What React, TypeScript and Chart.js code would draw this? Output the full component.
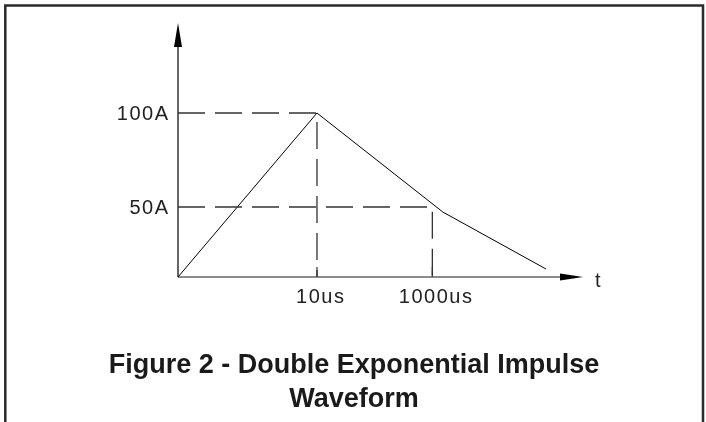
import React, { useEffect, useRef } from "react";
import { Chart, registerables } from "chart.js";

Chart.register(...registerables);

// ---- data (schematic positions) ----
const xTickValues = [1, 1.83];
const xTickLabels = ["10us", "1000us"];
const yTickValues = [100, 42.7];
const yTickLabels = ["100A", "50A"];
const waveX = [0, 1, 1.906, 2.647];
const waveY = [0, 100, 39.6, 4.9];
const xAxisMax = 2.914;
const yAxisMax = 154.9;
const xAxisName = "t";
const titleLines = ["Figure 2 - Double Exponential Impulse", "Waveform"];

const W = 706;
const H = 422;

const decorPlugin = {
  id: "decor",
  beforeDatasetsDraw(chart: any) {
    const ctx = chart.ctx as CanvasRenderingContext2D;
    const xs = chart.scales.x;
    const ys = chart.scales.y;
    const x0 = xs.getPixelForValue(0);
    const y0 = ys.getPixelForValue(0);
    const xEnd = xs.getPixelForValue(xAxisMax);
    const yEnd = ys.getPixelForValue(yAxisMax);
    ctx.save();
    ctx.strokeStyle = "#666";
    ctx.lineWidth = 2;
    ctx.beginPath();
    ctx.moveTo(x0, y0);
    ctx.lineTo(x0, yEnd + 12);
    ctx.stroke();
    ctx.lineWidth = 1.6;
    ctx.beginPath();
    ctx.moveTo(x0, y0);
    ctx.lineTo(xEnd - 12, y0);
    ctx.stroke();
    // ticks
    ctx.strokeStyle = "#444";
    ctx.lineWidth = 1.3;
    xTickValues.forEach((v) => {
      const px = xs.getPixelForValue(v);
      ctx.beginPath();
      ctx.moveTo(px, y0);
      ctx.lineTo(px, y0 - 10);
      ctx.stroke();
    });
    ctx.restore();
  },
  afterDatasetsDraw(chart: any) {
    const ctx = chart.ctx as CanvasRenderingContext2D;
    const xs = chart.scales.x;
    const ys = chart.scales.y;
    const x0 = xs.getPixelForValue(0);
    const y0 = ys.getPixelForValue(0);
    const xEnd = xs.getPixelForValue(xAxisMax);
    const yEnd = ys.getPixelForValue(yAxisMax);
    ctx.save();
    // arrow heads
    ctx.fillStyle = "#000";
    ctx.beginPath();
    ctx.moveTo(x0, yEnd);
    ctx.lineTo(x0 + 4, yEnd + 24);
    ctx.lineTo(x0 - 4, yEnd + 24);
    ctx.closePath();
    ctx.fill();
    ctx.beginPath();
    ctx.moveTo(xEnd, y0);
    ctx.lineTo(xEnd - 23, y0 - 3.5);
    ctx.lineTo(xEnd - 23, y0 + 3.5);
    ctx.closePath();
    ctx.fill();

    // labels
    const spacing = 1.5;
    ctx.font = '20px "Liberation Sans", Arial, sans-serif';
    ctx.fillStyle = "#222";
    ctx.textAlign = "left";
    ctx.textBaseline = "alphabetic";
    const widthOf = (s: string) => {
      (ctx as any).letterSpacing = "0px";
      const w = ctx.measureText(s).width + spacing * (s.length - 1);
      return w;
    };
    const drawText = (s: string, x: number, y: number) => {
      (ctx as any).letterSpacing = spacing + "px";
      ctx.fillText(s, x, y);
    };
    yTickValues.forEach((v, i) => {
      const py = ys.getPixelForValue(v);
      const s = yTickLabels[i];
      const w = widthOf(s);
      drawText(s, x0 - 10 - w, py + 7);
    });
    xTickValues.forEach((v, i) => {
      const px = xs.getPixelForValue(v) + 3;
      const s = xTickLabels[i];
      const w = widthOf(s);
      drawText(s, px - w / 2, y0 + 26);
    });
    drawText(xAxisName, xEnd + 12, y0 + 10);
    (ctx as any).letterSpacing = "0px";

    // title
    ctx.font = 'bold 27px "Liberation Sans", Arial, sans-serif';
    ctx.fillStyle = "#1a1a1a";
    ctx.textAlign = "center";
    ctx.fillText(titleLines[0], 354, 373);
    ctx.fillText(titleLines[1], 354, 407);

    // frame
    ctx.strokeStyle = "#2b2b2b";
    ctx.lineWidth = 2.5;
    ctx.beginPath();
    ctx.moveTo(5.3, H);
    ctx.lineTo(5.3, 5.5);
    ctx.lineTo(703, 5.5);
    ctx.lineTo(703, H);
    ctx.stroke();
    ctx.restore();
  },
};

export default function App() {
  const ref = useRef<HTMLCanvasElement | null>(null);
  useEffect(() => {
    if (!ref.current) return;
    const guides = yTickValues.map((y, i) => ({
      data: [
        { x: 0, y },
        { x: xTickValues[i], y },
        { x: xTickValues[i], y: 0 },
      ],
      showLine: true,
      borderColor: "#333",
      borderWidth: 1.3,
      borderDash: [27, 10],
      pointRadius: 0,
      fill: false,
    }));
    const chart = new Chart(ref.current, {
      type: "scatter",
      data: {
        datasets: [
          ...guides,
          {
            data: waveX.map((x, i) => ({ x, y: waveY[i] })),
            showLine: true,
            borderColor: "#000",
            borderWidth: 1,
            pointRadius: 0,
            fill: false,
          },
        ] as any,
      },
      options: {
        animation: false,
        responsive: false,
        devicePixelRatio: 1,
        events: [],
        layout: { padding: { left: 178, top: 23, right: W - 583, bottom: H - 277 } },
        scales: {
          x: { type: "linear", min: 0, max: xAxisMax, display: false },
          y: { type: "linear", min: 0, max: yAxisMax, display: false },
        },
        plugins: { legend: { display: false }, tooltip: { enabled: false }, title: { display: false } },
      },
      plugins: [decorPlugin],
    });
    return () => chart.destroy();
  }, []);
  return (
    <div style={{ position: "fixed", left: 0, top: 0, width: W, height: H, background: "#fff" }}>
      <canvas ref={ref} width={W} height={H} style={{ display: "block" }} />
    </div>
  );
}
